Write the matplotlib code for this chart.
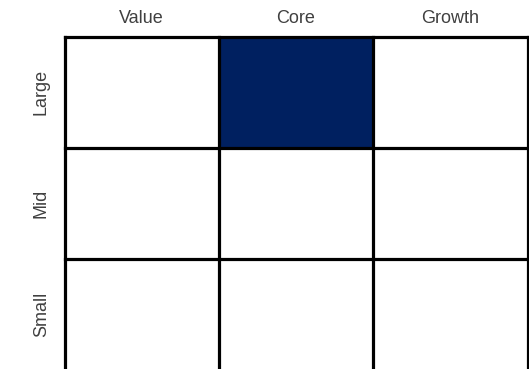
import matplotlib
matplotlib.use("Agg")
import matplotlib.pyplot as plt
from matplotlib.patches import Rectangle

cols = ["Value", "Core", "Growth"]
rows = ["Large", "Mid", "Small"]
highlight = [(0, 1)]  # (row, col)
fill_color = "#002060"

W, H = 529, 369
fig = plt.figure(figsize=(W / 100, H / 100), dpi=100)
left, right, top, bottom = 64.5, 527.5, 36.5, 370.5
ax = fig.add_axes([left / W, 1 - bottom / H, (right - left) / W, (bottom - top) / H])
ax.set_xlim(0, 3)
ax.set_ylim(3, 0)
ax.axis("off")

for (r, c) in highlight:
    ax.add_patch(Rectangle((c, r), 1, 1, facecolor=fill_color, edgecolor="none", zorder=1))

lw = 2.3
for i in range(4):
    ax.plot([i, i], [0, 3], color="black", lw=lw, clip_on=False, zorder=3, solid_capstyle="projecting")
    ax.plot([0, 3], [i, i], color="black", lw=lw, clip_on=False, zorder=3, solid_capstyle="projecting")

txt_kw = dict(fontsize=13, color="#404040", family=["Liberation Sans", "DejaVu Sans"])
for j, c in enumerate(cols):
    ax.text(j + 0.5, -0.165, c, ha="center", va="center", **txt_kw)
for i, r in enumerate(rows):
    ax.text(-0.15, i + 0.5, r, ha="center", va="center", rotation=90, **txt_kw)

fig.savefig("out.png", dpi=100)
